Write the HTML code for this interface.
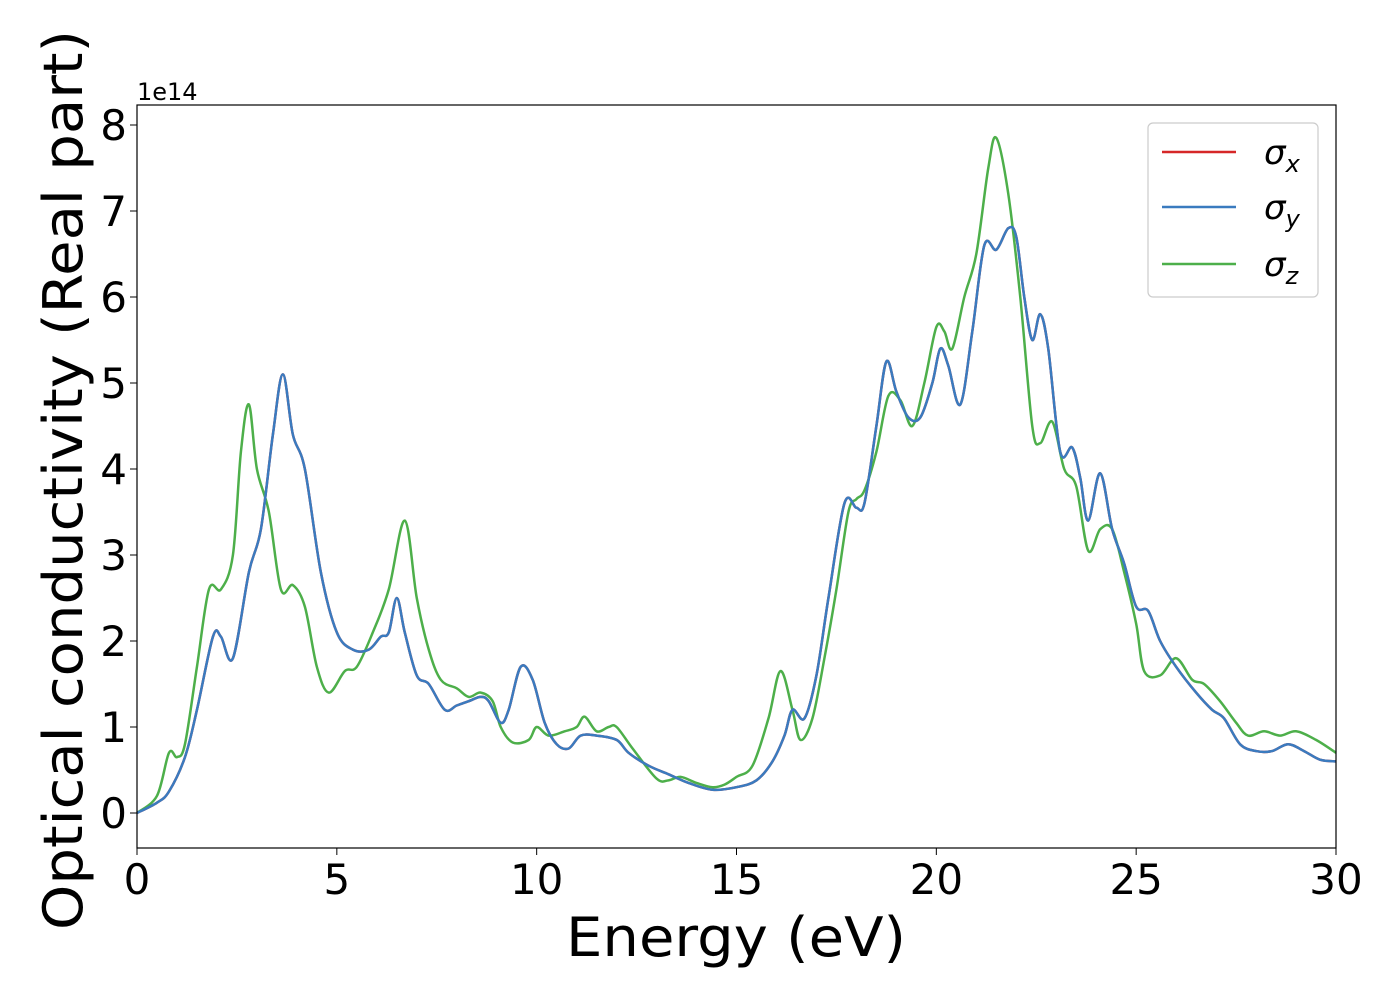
<!DOCTYPE html>
<html><head><meta charset="utf-8"><style>
body{margin:0;background:#fff}
svg text{font-family:"DejaVu Sans","Liberation Sans",sans-serif;fill:#000}
</style></head><body>
<svg id="chart" width="1400" height="1000" xmlns="http://www.w3.org/2000/svg">
<g id="ticks"></g>
<g id="series"></g>
<rect x="137" y="105" width="1199" height="743" fill="none" stroke="#000" stroke-width="1.2"/>
<text x="137" y="100" font-size="24">1e14</text>
<text x="736" y="956" font-size="54" text-anchor="middle" textLength="340" lengthAdjust="spacingAndGlyphs">Energy (eV)</text>
<text transform="translate(82,480) rotate(-90)" font-size="54" text-anchor="middle" textLength="900" lengthAdjust="spacingAndGlyphs">Optical conductivity (Real part)</text>
<g>
<rect x="1148" y="123" width="170" height="174" rx="5" fill="#fff" stroke="#ccc" stroke-width="1.2"/>
<line x1="1162" y1="152" x2="1236" y2="152" stroke="#d62728" stroke-width="2.5"/>
<text x="1264" y="164" font-size="34" font-style="italic" font-family="DejaVu Serif">σ<tspan font-size="24" dy="8">x</tspan></text>
<line x1="1162" y1="207" x2="1236" y2="207" stroke="#3a7bbf" stroke-width="2.5"/>
<text x="1264" y="219" font-size="34" font-style="italic" font-family="DejaVu Serif">σ<tspan font-size="24" dy="8">y</tspan></text>
<line x1="1162" y1="264" x2="1236" y2="264" stroke="#4daf4a" stroke-width="2.5"/>
<text x="1264" y="276" font-size="34" font-style="italic" font-family="DejaVu Serif">σ<tspan font-size="24" dy="8">z</tspan></text>
</g>
</svg>
<script>
const xTicks=[0,5,10,15,20,25,30];
const yTicks=[0,1,2,3,4,5,6,7,8];
const energyXY=[0,0.5,0.8,1.2,1.5,1.9,2.1,2.4,2.8,3.1,3.4,3.65,3.9,4.2,4.6,5.0,5.4,5.8,6.1,6.3,6.5,6.7,7.0,7.3,7.7,8.0,8.3,8.6,8.8,9.1,9.3,9.6,9.9,10.2,10.5,10.8,11.1,11.5,12,12.3,12.8,13.3,13.8,14.4,15,15.5,15.9,16.2,16.4,16.7,17.0,17.3,17.7,18.0,18.2,18.5,18.75,19.0,19.3,19.6,19.9,20.1,20.3,20.6,20.9,21.2,21.5,21.8,22.0,22.2,22.4,22.6,22.8,23.1,23.4,23.6,23.8,24.1,24.4,24.7,25.0,25.3,25.6,26.0,26.5,26.9,27.2,27.6,28.0,28.4,28.8,29.2,29.6,30];
const sigmaXY=[0,0.12,0.25,0.65,1.2,2.05,2.05,1.8,2.8,3.3,4.4,5.1,4.4,4.0,2.8,2.1,1.9,1.9,2.05,2.1,2.5,2.1,1.6,1.5,1.2,1.25,1.3,1.35,1.3,1.05,1.2,1.7,1.55,1.05,0.8,0.75,0.9,0.9,0.85,0.7,0.55,0.45,0.35,0.27,0.3,0.38,0.6,0.9,1.2,1.1,1.6,2.5,3.6,3.55,3.6,4.5,5.25,4.9,4.6,4.6,5.0,5.4,5.2,4.75,5.6,6.6,6.55,6.8,6.7,6.0,5.5,5.8,5.4,4.2,4.25,3.9,3.4,3.95,3.3,2.9,2.4,2.35,2.0,1.7,1.4,1.2,1.1,0.8,0.72,0.72,0.8,0.72,0.62,0.6];
const energyZ=[0,0.5,0.8,1.0,1.2,1.5,1.8,2.1,2.4,2.6,2.8,3.0,3.3,3.6,3.9,4.2,4.5,4.8,5.2,5.5,5.9,6.3,6.7,7.0,7.3,7.6,8.0,8.3,8.6,8.9,9.1,9.4,9.8,10.0,10.3,10.7,11.0,11.2,11.5,11.8,12.0,12.4,13.0,13.3,13.6,14.0,14.4,14.7,15.0,15.4,15.8,16.1,16.4,16.6,16.9,17.2,17.5,17.8,18.0,18.2,18.5,18.8,19.1,19.4,19.7,20.0,20.2,20.4,20.7,21.0,21.3,21.5,21.8,22.1,22.4,22.6,22.9,23.2,23.5,23.8,24.1,24.4,24.7,25.0,25.2,25.6,26.0,26.4,26.7,27.1,27.5,27.8,28.2,28.6,29.0,29.5,30];
const sigmaZ=[0,0.2,0.7,0.65,0.8,1.7,2.6,2.6,3.0,4.2,4.75,4.0,3.5,2.6,2.65,2.4,1.7,1.4,1.65,1.7,2.1,2.6,3.4,2.5,1.9,1.55,1.45,1.35,1.4,1.3,1.0,0.82,0.85,1.0,0.9,0.95,1.0,1.12,0.95,1.0,1.0,0.75,0.4,0.38,0.42,0.35,0.3,0.33,0.42,0.55,1.1,1.65,1.2,0.85,1.1,1.8,2.6,3.5,3.65,3.75,4.2,4.85,4.8,4.5,5.0,5.65,5.6,5.4,6.0,6.5,7.5,7.85,7.2,6.0,4.5,4.3,4.55,4.0,3.8,3.05,3.3,3.3,2.8,2.2,1.65,1.6,1.8,1.55,1.5,1.3,1.05,0.9,0.95,0.9,0.95,0.85,0.7];
const X0=137,X1=1336,Y0=813,YPER=86;
const xs=v=>X0+(X1-X0)*v/30;
const ys=v=>Y0-YPER*v;
const NS='http://www.w3.org/2000/svg';
const tg=document.getElementById('ticks');
xTicks.forEach(t=>{
 const l=document.createElementNS(NS,'line');
 
 
 l.setAttribute('x1',xs(t));l.setAttribute('x2',xs(t));l.setAttribute('y1',848);l.setAttribute('y2',855);l.setAttribute('stroke','#000');
 tg.appendChild(l);
 const s=document.createElementNS(NS,'text');
 
 
 s.setAttribute('x',xs(t));s.setAttribute('y',894);s.setAttribute('font-size','42');s.setAttribute('text-anchor','middle');
 s.textContent=t;tg.appendChild(s);
});
yTicks.forEach(t=>{
 const l=document.createElementNS(NS,'line');
 
 
 l.setAttribute('x1',130);l.setAttribute('x2',137);l.setAttribute('y1',ys(t));l.setAttribute('y2',ys(t));l.setAttribute('stroke','#000');
 tg.appendChild(l);
 const s=document.createElementNS(NS,'text');
 
 
 s.setAttribute('x',127);s.setAttribute('y',ys(t)+15);s.setAttribute('font-size','42');s.setAttribute('text-anchor','end');
 s.textContent=t;tg.appendChild(s);
});
function path(ex,ey){
 const p=ex.map((e,i)=>[xs(e),ys(ey[i])]);
 let d='M'+p[0][0]+','+p[0][1];
 for(let i=0;i<p.length-1;i++){
  const a=p[Math.max(0,i-1)],b=p[i],c=p[i+1],e=p[Math.min(p.length-1,i+2)];
  d+=` C${b[0]+(c[0]-a[0])/6},${b[1]+(c[1]-a[1])/6} ${c[0]-(e[0]-b[0])/6},${c[1]-(e[1]-b[1])/6} ${c[0]},${c[1]}`;
 }
 return d;
}
const sg=document.getElementById('series');
[['series-sigma-x',energyXY,sigmaXY,'#d62728'],['series-sigma-z',energyZ,sigmaZ,'#4daf4a'],['series-sigma-y',energyXY,sigmaXY,'#3a7bbf']].forEach(s=>{
 const el=document.createElementNS(NS,'path');
 
 
 el.setAttribute('d',path(s[1],s[2]));el.setAttribute('fill','none');el.setAttribute('stroke',s[3]);el.setAttribute('stroke-width','2.5');
 sg.appendChild(el);
});
</script>
</body></html>
